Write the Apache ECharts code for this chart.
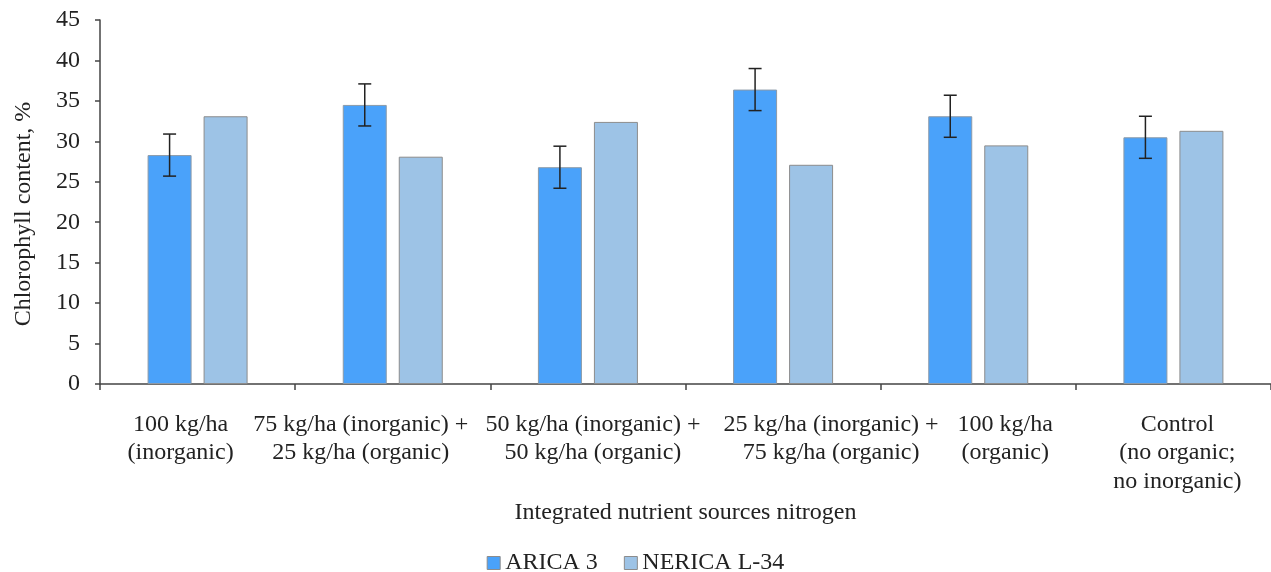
<!DOCTYPE html>
<html>
<head>
<meta charset="utf-8">
<script src="https://cdn.jsdelivr.net/npm/echarts@6/dist/echarts.min.js"></script>
<style>
html,body{margin:0;padding:0;background:#fff;}
#chart{width:1271px;height:572px;}
</style>
</head>
<body>
<div id="chart"></div>
<script>
// ---- data ----
const categories = [
  "100 kg/ha\n(inorganic)",
  "75 kg/ha (inorganic) +\n25 kg/ha (organic)",
  "50 kg/ha (inorganic) +\n50 kg/ha (organic)",
  "25 kg/ha (inorganic) +\n75 kg/ha (organic)",
  "100 kg/ha\n(organic)",
  "Control\n(no organic;\nno inorganic)"
];
const seriesNames = ["ARICA 3", "NERICA L-34"];
const arica3 = [28.3, 34.5, 26.8, 36.4, 33.1, 30.5];
const nerica = [33.1, 28.1, 32.4, 27.1, 29.5, 31.3];
const aricaErr = [2.6, 2.6, 2.6, 2.6, 2.6, 2.6];
const yTicks = [0, 5, 10, 15, 20, 25, 30, 35, 40, 45];

// ---- layout/style ----
const FONT = "Liberation Serif";
const FS = 24;
const BAR_W = 44;
const BAR_GAP = 12;
const labelShift = [-17, -32, 5, 48, 27, 4]; // horizontal label offsets (px)

const axisData = categories.map((c, i) => {
  const d = labelShift[i];
  const pad = d >= 0 ? [0, 0, 0, 2 * d] : [0, -2 * d, 0, 0];
  return { value: c, textStyle: { padding: pad } };
});

const chart = echarts.init(document.getElementById('chart'), null, {renderer: 'canvas'});
const option = {
  animation: false,
  backgroundColor: '#ffffff',
  textStyle: { fontFamily: FONT, color: '#222' },
  grid: { left: 100, right: 0, top: 20, bottom: 188, containLabel: false },
  legend: {
    top: 546,
    left: 'center',
    icon: 'rect',
    itemWidth: 13,
    itemHeight: 13,
    itemGap: 26,
    textStyle: { fontFamily: FONT, fontSize: FS, color: '#222', padding: [0, 0, 0, 0] },
    data: seriesNames.map((n) => ({ name: n, itemStyle: { borderColor: '#8c8c8c', borderWidth: 1 } }))
  },
  xAxis: {
    type: 'category',
    data: axisData,
    name: 'Integrated nutrient sources nitrogen',
    nameLocation: 'middle',
    nameGap: 115,
    nameTextStyle: { fontFamily: FONT, fontSize: FS, color: '#222' },
    axisLine: { lineStyle: { color: '#444', width: 1.5 } },
    axisTick: { show: true, length: 6, lineStyle: { color: '#444', width: 1.5 } },
    axisLabel: { interval: 0, margin: 26, fontFamily: FONT, fontSize: FS, color: '#222', lineHeight: 28.5 },
    splitLine: { show: false }
  },
  yAxis: {
    type: 'value',
    min: 0,
    max: 45,
    interval: 5,
    name: 'Chlorophyll content, %',
    nameLocation: 'middle',
    nameGap: 64,
    nameTextStyle: { fontFamily: FONT, fontSize: FS, color: '#222', padding: [0, 24, 0, 0] },
    axisLine: { show: true, lineStyle: { color: '#444', width: 1.5 } },
    axisTick: { show: true, length: 5, lineStyle: { color: '#444', width: 1.5 } },
    axisLabel: {
      margin: 20, fontFamily: FONT, fontSize: FS, color: '#222',
      formatter: v => (yTicks.indexOf(v) >= 0 ? String(v) : '')
    },
    splitLine: { show: false }
  },
  series: [
    {
      name: seriesNames[0],
      type: 'bar',
      data: arica3,
      barWidth: BAR_W,
      barGap: (BAR_GAP / BAR_W * 100) + '%',
      itemStyle: { color: '#4aa2fa', borderColor: '#8c9aa8', borderWidth: 1 }
    },
    {
      name: seriesNames[1],
      type: 'bar',
      data: nerica,
      barWidth: BAR_W,
      itemStyle: { color: '#9dc3e6', borderColor: '#8c8c8c', borderWidth: 1 }
    },
    {
      name: 'err',
      type: 'custom',
      z: 10,
      silent: true,
      data: arica3.map((v, i) => [i, v, aricaErr[i]]),
      encode: { x: 0, y: 1 },
      renderItem: function (params, api) {
        const i = api.value(0), v = api.value(1), e = api.value(2);
        const off = -(BAR_W + BAR_GAP) / 2;
        const top = api.coord([i, v + e]);
        const bot = api.coord([i, v - e]);
        const x = top[0] + off;
        const cap = 6.5;
        const st = { stroke: '#222', lineWidth: 1.5 };
        return {
          type: 'group',
          children: [
            { type: 'line', shape: { x1: x, y1: top[1], x2: x, y2: bot[1] }, style: st },
            { type: 'line', shape: { x1: x - cap, y1: top[1], x2: x + cap, y2: top[1] }, style: st },
            { type: 'line', shape: { x1: x - cap, y1: bot[1], x2: x + cap, y2: bot[1] }, style: st }
          ]
        };
      }
    }
  ]
};
chart.setOption(option);
</script>
</body>
</html>
